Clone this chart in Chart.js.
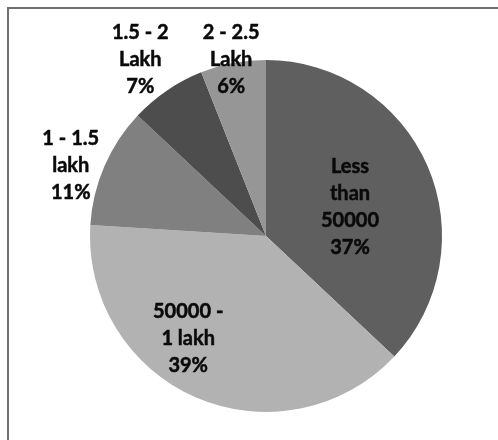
<!DOCTYPE html>
<html>
<head>
<meta charset="utf-8">
<script src="https://cdn.jsdelivr.net/npm/chart.js@4/dist/chart.umd.min.js"></script>
<style>
  html, body { margin: 0; padding: 0; background: #ffffff; }
  #wrap { width: 498px; height: 440px; position: relative; }
</style>
</head>
<body>
<div id="wrap"><canvas id="c" width="498" height="440"></canvas></div>
<script>
// ---- data ----
const categories = ["Less than 50000", "50000 - 1 lakh", "1 - 1.5 lakh", "1.5 - 2 Lakh", "2 - 2.5 Lakh"];
const labelLines = [["Less", "than", "50000"], ["50000 -", "1 lakh"], ["1 - 1.5", "lakh"], ["1.5 - 2", "Lakh"], ["2 - 2.5", "Lakh"]];
const shares = [37, 39, 11, 7, 6];
const sliceColors = ["#5f5f5f", "#b2b2b2", "#808080", "#4d4d4d", "#969696"];

// label placement style (radius factor of outer radius, angle shift in degrees)
const labelRadius = [0.505, 0.733, 1.18, 1.233, 1.02];
const labelShift = [4.3, 13.7, -3.5, -1.2, -0.4];

const framePlugin = {
  id: 'frame',
  beforeDraw(chart) {
    const ctx = chart.ctx;
    ctx.save();
    ctx.fillStyle = '#ffffff';
    ctx.fillRect(0, 0, chart.width, chart.height);
    ctx.strokeStyle = '#6f6f6f';
    ctx.lineWidth = 2;
    ctx.beginPath();
    ctx.moveTo(8, chart.height + 5);
    ctx.lineTo(8, 8);
    ctx.lineTo(chart.width + 5, 8);
    ctx.stroke();
    ctx.restore();
  }
};

const labelPlugin = {
  id: 'sliceLabels',
  afterDatasetsDraw(chart) {
    const ctx = chart.ctx;
    const meta = chart.getDatasetMeta(0);
    const data = chart.data.datasets[0].data;
    const total = data.reduce((a, b) => a + b, 0);
    ctx.save();
    ctx.font = 'bold 20px Lato, "Open Sans", sans-serif';
    ctx.fillStyle = '#0a0a0a';
    ctx.strokeStyle = '#0a0a0a';
    ctx.lineWidth = 0.5;
    ctx.textAlign = 'center';
    ctx.textBaseline = 'middle';
    const lh = 27;
    meta.data.forEach((arc, i) => {
      const p = arc.getProps(['x', 'y', 'startAngle', 'endAngle', 'outerRadius'], true);
      const mid = (p.startAngle + p.endAngle) / 2 + labelShift[i] * Math.PI / 180;
      const r = p.outerRadius * labelRadius[i];
      const cx = p.x + Math.cos(mid) * r;
      const cy = p.y + Math.sin(mid) * r;
      const lines = labelLines[i].concat([Math.round(data[i] / total * 100) + '%']);
      const top = cy - (lines.length - 1) * lh / 2;
      lines.forEach((t, k) => {
        ctx.fillText(t, cx, top + k * lh);
        ctx.strokeText(t, cx, top + k * lh);
      });
    });
    ctx.restore();
  }
};

new Chart(document.getElementById('c'), {
  type: 'pie',
  data: {
    labels: categories,
    datasets: [{
      data: shares,
      backgroundColor: sliceColors,
      borderWidth: 0
    }]
  },
  options: {
    responsive: false,
    animation: false,
    layout: { padding: { left: 90, right: 56, top: 60, bottom: 28 } },
    plugins: {
      legend: { display: false },
      tooltip: { enabled: false }
    }
  },
  plugins: [framePlugin, labelPlugin]
});
</script>
</body>
</html>
